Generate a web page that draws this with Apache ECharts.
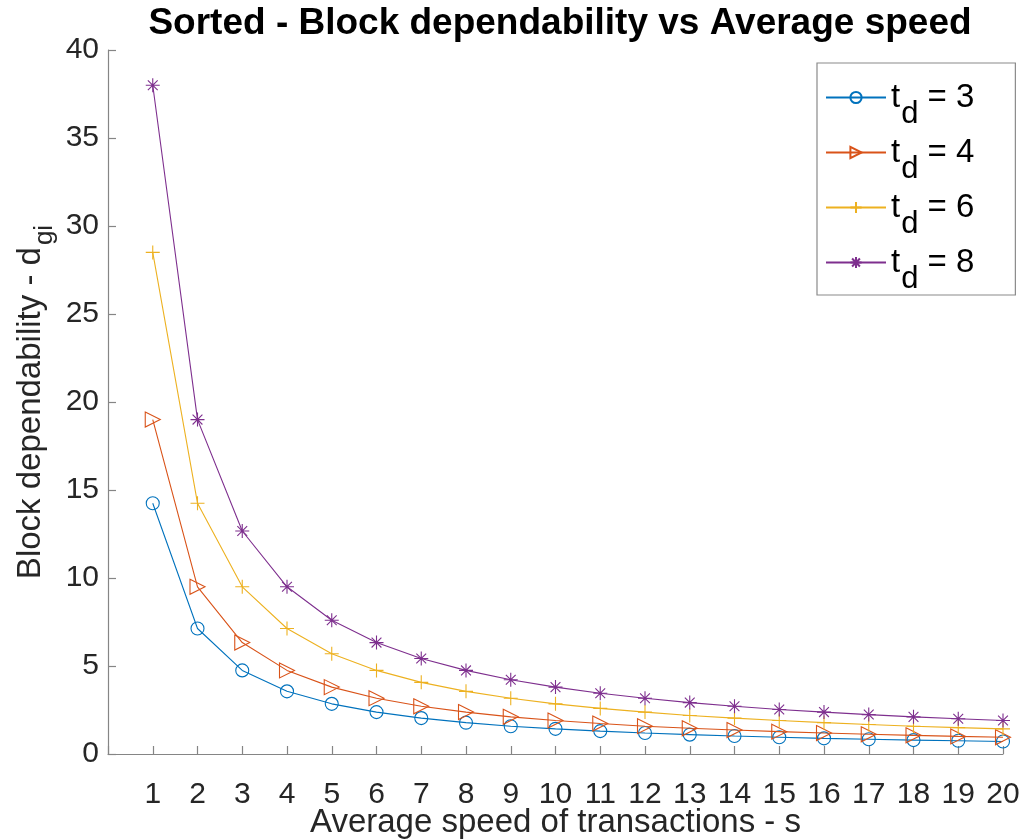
<!DOCTYPE html>
<html>
<head>
<meta charset="utf-8">
<script src="https://cdn.jsdelivr.net/npm/echarts@6/dist/echarts.min.js"></script>
<style>html,body{margin:0;padding:0;background:#fff;}#c{width:1023px;height:840px;}</style>
</head>
<body>
<div id="c"></div>
<script>
var speeds = [1,2,3,4,5,6,7,8,9,10,11,12,13,14,15,16,17,18,19,20];
var tdLabels = ['3','4','6','8'];
var td3 = [14.25,7.13,4.75,3.56,2.85,2.38,2.04,1.78,1.58,1.43,1.30,1.19,1.10,1.02,0.95,0.89,0.84,0.79,0.75,0.71];
var td4 = [19.0,9.5,6.33,4.75,3.8,3.17,2.71,2.38,2.11,1.9,1.73,1.58,1.46,1.36,1.27,1.19,1.12,1.06,1.0,0.95];
var td6 = [28.5,14.25,9.5,7.13,5.7,4.75,4.07,3.56,3.17,2.85,2.59,2.38,2.19,2.04,1.9,1.78,1.68,1.58,1.5,1.43];
var td8 = [38.0,19.0,12.67,9.5,7.6,6.33,5.43,4.75,4.22,3.8,3.45,3.17,2.92,2.71,2.53,2.38,2.24,2.11,2.0,1.9];
var yTicks = [0,5,10,15,20,25,30,35,40];

var colors = ['#0072BD','#D95319','#EDB120','#7E2F8E'];
var symbols = [
  'circle',
  'path://M-1,-1L1,0L-1,1Z',
  'path://M0,-1L0,1M-1,0L1,0',
  'path://M0,-1L0,1M-1,0L1,0M-0.7,-0.7L0.7,0.7M-0.7,0.7L0.7,-0.7'
];
var sizes = [13, 15, 14, 14];
var allData = [td3, td4, td6, td8];
var font = 'Liberation Sans, Arial, Helvetica, sans-serif';

var series = allData.map(function(arr, i){
  return {
    name: 't_d = ' + tdLabels[i],
    type: 'line',
    data: arr.map(function(v, j){ return [speeds[j], v]; }),
    symbol: symbols[i],
    symbolSize: sizes[i],
    showAllSymbol: true,
    lineStyle: {color: colors[i], width: 1.1},
    itemStyle: {color: 'rgba(0,0,0,0)', borderColor: colors[i], borderWidth: 1.1},
    emphasis: {disabled: true},
    z: 2 + i
  };
});

var chart = echarts.init(document.getElementById('c'), null, {renderer: 'canvas'});
chart.setOption({
  animation: false,
  backgroundColor: '#fff',
  title: {
    text: 'Sorted - Block dependability vs Average speed',
    left: 555, top: 0, textAlign: 'center',
    textStyle: {fontFamily: font, fontWeight: 'bold', fontSize: 37, color: '#000'}
  },
  grid: {left: 108, right: 20, top: 50, bottom: 86, containLabel: false, outerBoundsMode: 'none'},
  legend: {
    orient: 'vertical',
    left: 817, top: 63,
    padding: [18, 41, 0, 8],
    itemGap: 6,
    itemWidth: 60, itemHeight: 14,
    backgroundColor: '#fff',
    borderColor: '#8a8a8a', borderWidth: 1.2,
    data: series.map(function(s){ return s.name; }),
    formatter: function(name){
      var v = name.split(' = ')[1];
      return '{n|t}{s|d}{n| = ' + v + '}';
    },
    textStyle: {
      fontFamily: font, color: '#000',
      rich: {
        n: {fontSize: 33, fontFamily: font, color: '#000'},
        s: {fontSize: 31, fontFamily: font, color: '#000', padding: [34, 0, 0, 1]}
      }
    }
  },
  xAxis: {
    type: 'value', min: 0, max: 20, interval: 1,
    name: 'Average speed of transactions - s',
    nameLocation: 'middle', nameGap: 52,
    nameMoveOverlap: false,
    nameTextStyle: {fontFamily: font, fontSize: 33, color: '#262626'},
    axisLine: {show: true, lineStyle: {color: '#858585', width: 1.2}},
    axisTick: {show: true, inside: true, length: 8, lineStyle: {color: '#858585', width: 1.2}},
    axisLabel: {
      fontFamily: font, fontSize: 30, color: '#262626', margin: 26,
      formatter: function(v){ return v === 0 ? '' : String(v); }
    },
    splitLine: {show: false}
  },
  yAxis: {
    type: 'value', min: 0, max: 40, interval: 5,
    name: 'Block dependability - {s|d}{b|gi}',
    nameLocation: 'middle', nameGap: 50,
    nameMoveOverlap: false,
    nameTextStyle: {
      fontFamily: font, fontSize: 33, color: '#262626',
      rich: {
        s: {fontFamily: font, fontSize: 33, color: '#262626'},
        b: {fontFamily: font, fontSize: 26, color: '#262626', padding: [28, 0, 0, 2]}
      }
    },
    axisLine: {show: true, lineStyle: {color: '#858585', width: 1.2}},
    axisTick: {show: true, inside: true, length: 8, lineStyle: {color: '#858585', width: 1.2}},
    axisLabel: {
      fontFamily: font, fontSize: 30, color: '#262626', margin: 9,
      formatter: function(v){ return yTicks.indexOf(v) >= 0 ? String(v) : ''; }
    },
    splitLine: {show: false}
  },
  series: series
});
</script>
</body>
</html>
